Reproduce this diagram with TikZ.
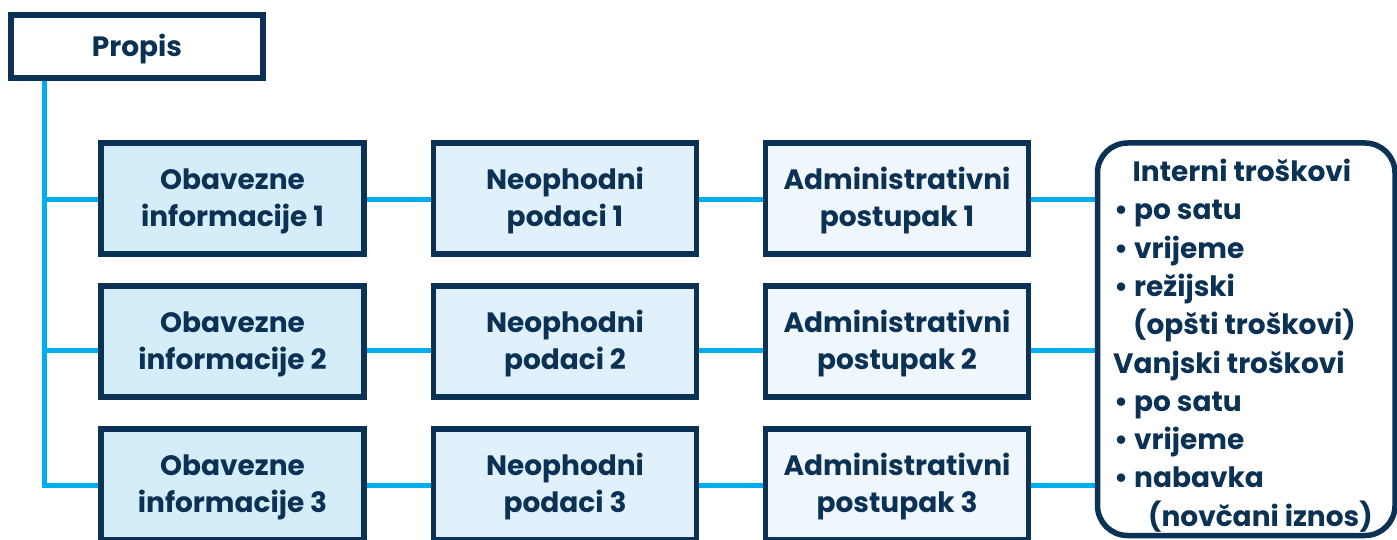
\documentclass[tikz,border=0pt]{standalone}
\usepackage{fontspec}
\setmainfont{Poppins}
\usetikzlibrary{backgrounds}
\definecolor{navy}{HTML}{0B3154}
\definecolor{cyanline}{HTML}{00AEEF}
\definecolor{fillObv}{HTML}{D5EDF9}
\definecolor{fillNeo}{HTML}{E1F1FB}
\definecolor{fillAdm}{HTML}{EFF7FD}
% tall invisible rule that sets the text a little lower in its box
\newcommand{\toprule}{\rule{0pt}{27pt}}
\begin{document}
\begin{tikzpicture}[x=1pt,y=-1pt,
  font=\bfseries\fontsize{28}{37.4}\selectfont,
  box/.style={draw=navy, line width=5.5pt, minimum width=263pt, minimum height=111pt,
    inner sep=0pt, align=center, text=navy},
  link/.style={draw=cyanline, line width=5pt},
  costline/.style={anchor=base west, inner sep=0pt, text=navy}]
\useasboundingbox (0,0) rectangle (1397,540);

% top element
\node[box, fill=white, minimum width=252pt, minimum height=63pt] (propis) at (137,46.5) {\toprule Propis};

% three rows of boxes
\foreach \i/\y in {1/198.5, 2/341.5, 3/484.5} {
  \node[box, fill=fillObv] (o\i) at (232.5,\y) {\toprule Obavezne\\informacije \i};
  \node[box, fill=fillNeo] (n\i) at (565,\y) {\toprule Neophodni\\podaci \i};
  \node[box, fill=fillAdm] (a\i) at (897,\y) {\toprule Administrativni\\postupak \i};
}

% cost summary
\node[draw=navy, line width=5.5pt, rounded corners=30pt, minimum width=297.5pt,
  minimum height=392.5pt, inner sep=0pt] (costs) at (1246.25,339.25) {};
\node[costline] (c1) at (1132.5,181.5) {Interni troškovi};
\node[costline] (c2) at (1114,219.8) {• po satu};
\node[costline] (c3) at (1114,258.1) {• vrijeme};
\node[costline] (c4) at (1114,296.4) {• režijski};
\node[costline] (c5) at (1133,334.7) {(opšti troškovi)};
\node[costline] (c6) at (1113,373) {Vanjski troškovi};
\node[costline] (c7) at (1114,411.3) {• po satu};
\node[costline] (c8) at (1114,449.6) {• vrijeme};
\node[costline] (c9) at (1114,487.9) {• nabavka};
\node[costline] (c10) at (1148,526.2) {(novčani iznos)};

% connectors
\coordinate (trunk) at (44,78);
\coordinate (row1) at (0,200);
\coordinate (row2) at (0,350);
\coordinate (row3) at (0,485);
\begin{pgfonlayer}{background}
  \draw[link] (trunk) |- (o3.west |- row3);
  \draw[link] (trunk |- row1) -- (o1.west |- row1);
  \draw[link] (trunk |- row2) -- (o2.west |- row2);
  \foreach \r in {1,2,3} {
    \draw[link] (o\r.east |- row\r) -- (n\r.west |- row\r);
    \draw[link] (n\r.east |- row\r) -- (a\r.west |- row\r);
    \draw[link] (a\r.east |- row\r) -- (costs.west |- row\r);
  }
\end{pgfonlayer}
\end{tikzpicture}
\end{document}
